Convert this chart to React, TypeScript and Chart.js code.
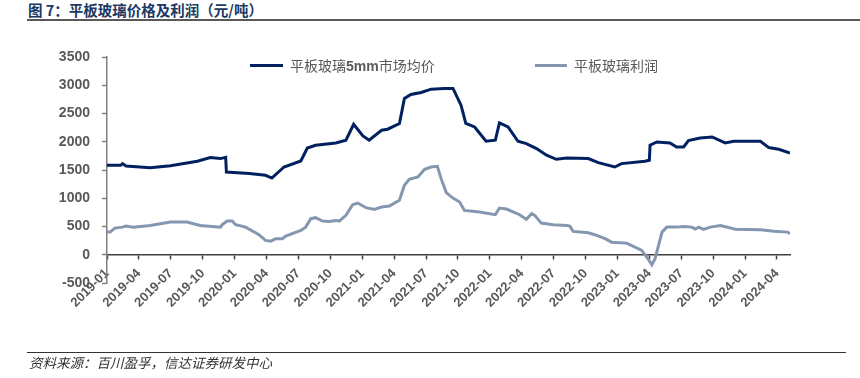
import React, { useEffect, useRef } from "react";
import { Chart, registerables } from "chart.js";

Chart.register(...registerables);

// 平板玻璃5mm市场均价 (元/吨)
const priceDates = [
  "2019-01-01", "2019-02-09", "2019-02-14", "2019-02-23", "2019-05-03", "2019-06-30",
  "2019-09-16", "2019-10-23", "2019-11-21", "2019-12-06", "2019-12-08", "2020-02-12",
  "2020-03-29", "2020-04-16", "2020-05-21", "2020-07-08", "2020-07-27", "2020-08-20",
  "2020-10-17", "2020-11-15", "2020-12-07", "2021-01-03", "2021-01-21", "2021-02-24",
  "2021-03-13", "2021-04-16", "2021-04-30", "2021-05-19", "2021-06-17", "2021-07-16",
  "2021-08-23", "2021-09-17", "2021-10-10", "2021-10-24", "2021-11-18", "2021-12-21",
  "2022-01-17", "2022-01-29", "2022-02-21", "2022-03-21", "2022-04-14", "2022-05-13",
  "2022-06-11", "2022-07-09", "2022-08-08", "2022-10-09", "2022-11-07", "2022-12-24",
  "2023-01-13", "2023-03-19", "2023-04-01", "2023-04-03", "2023-04-22", "2023-05-30",
  "2023-06-18", "2023-07-08", "2023-07-22", "2023-08-25", "2023-09-28", "2023-11-05",
  "2023-11-29", "2024-02-14", "2024-03-08", "2024-04-06", "2024-05-08",
];
const priceValues = [
  1583, 1583, 1613, 1571, 1542, 1575,
  1654, 1720, 1702, 1725, 1465, 1436,
  1406, 1358, 1553, 1660, 1890, 1938,
  1979, 2027, 2310, 2103, 2027, 2204,
  2222, 2323, 2766, 2837, 2872, 2931,
  2943, 2943, 2647, 2323, 2262, 2009,
  2027, 2333, 2262, 2009, 1968, 1879,
  1761, 1690, 1713, 1702, 1631, 1553,
  1613, 1654, 1672, 1938, 1997, 1979,
  1908, 1908, 2021, 2067, 2085, 1979,
  2009, 2009, 1897, 1867, 1801,
];

// 平板玻璃利润 (元/吨)
const profitDates = [
  "2019-01-01", "2019-01-10", "2019-01-24", "2019-02-14", "2019-02-23", "2019-03-16",
  "2019-05-03", "2019-06-30", "2019-08-17", "2019-09-24", "2019-11-21", "2019-11-26",
  "2019-12-10", "2019-12-25", "2020-01-04", "2020-02-02", "2020-03-10", "2020-03-29",
  "2020-04-13", "2020-04-27", "2020-05-16", "2020-05-26", "2020-07-08", "2020-07-22",
  "2020-08-06", "2020-08-20", "2020-09-09", "2020-09-28", "2020-10-17", "2020-10-27",
  "2020-11-15", "2020-12-04", "2020-12-19", "2021-01-12", "2021-02-05", "2021-02-24",
  "2021-03-18", "2021-04-16", "2021-04-30", "2021-05-14", "2021-06-08", "2021-06-27",
  "2021-07-16", "2021-08-03", "2021-08-14", "2021-08-29", "2021-09-17", "2021-10-06",
  "2021-10-20", "2021-12-02", "2022-01-17", "2022-01-29", "2022-02-17", "2022-03-26",
  "2022-04-14", "2022-04-29", "2022-05-08", "2022-05-27", "2022-06-30", "2022-08-08",
  "2022-08-17", "2022-08-27", "2022-10-09", "2022-10-28", "2022-11-26", "2022-12-15",
  "2023-01-28", "2023-03-10", "2023-03-28", "2023-04-08", "2023-04-17", "2023-05-07",
  "2023-05-21", "2023-06-18", "2023-07-08", "2023-08-01", "2023-08-11", "2023-08-21",
  "2023-09-04", "2023-09-23", "2023-10-22", "2023-12-04", "2024-02-14", "2024-03-23",
  "2024-05-01", "2024-05-08",
];
const profitValues = [
  401, 401, 472, 489, 507, 489,
  519, 578, 578, 519, 489, 532,
  596, 596, 532, 489, 355, 254,
  241, 284, 284, 330, 431, 489,
  638, 656, 596, 590, 608, 596,
  697, 886, 915, 833, 803, 844,
  862, 963, 1229, 1335, 1376, 1512,
  1553, 1566, 1347, 1100, 1003, 933,
  785, 755, 709, 826, 809, 709,
  626, 727, 697, 560, 532, 519,
  507, 413, 390, 355, 284, 223,
  206, 76, -71, -177, -71, 401,
  489, 489, 502, 489, 454, 489,
  450, 489, 519, 450, 443, 418,
  401, 372,
];

const seriesNames = ["平板玻璃5mm市场均价", "平板玻璃利润"];
const seriesColors = ["#002060", "#8497B0"];
const yMin = -500;
const yMax = 3500;
const yStep = 500;
const xTickStepMonths = 3;
const baseYear = 2019;

const titleText = "图 7：平板玻璃价格及利润（元/吨）";
const sourceText = "资料来源：百川盈孚，信达证券研发中心";

function monthIndex(d: string): number {
  const [y, m, day] = d.split("-").map(Number);
  const dim = new Date(y, m, 0).getDate();
  return (y - baseYear) * 12 + (m - 1) + (day - 1) / dim;
}

function monthLabel(v: number): string {
  const idx = Math.round(v);
  const y = baseYear + Math.floor(idx / 12);
  const m = (idx % 12) + 1;
  return `${y}-${m < 10 ? "0" + m : m}`;
}

const LAT = '"Liberation Sans", Arial, "Noto Sans CJK SC", sans-serif';

export default function App() {
  const canvasRef = useRef<HTMLCanvasElement | null>(null);

  useEffect(() => {
    const canvas = canvasRef.current;
    if (!canvas) return;
    const priceData = priceDates.map((d, i) => ({ x: monthIndex(d), y: priceValues[i] }));
    const profitData = profitDates.map((d, i) => ({ x: monthIndex(d), y: profitValues[i] }));
    const xMax = Math.max(monthIndex(priceDates[priceDates.length - 1]), monthIndex(profitDates[profitDates.length - 1]));

    const chart = new Chart(canvas, {
      type: "line",
      data: {
        datasets: [
          {
            label: seriesNames[0],
            data: priceData,
            borderColor: seriesColors[0],
            backgroundColor: seriesColors[0],
            borderWidth: 3,
            pointRadius: 0,
            tension: 0,
          },
          {
            label: seriesNames[1],
            data: profitData,
            borderColor: seriesColors[1],
            backgroundColor: seriesColors[1],
            borderWidth: 3,
            pointRadius: 0,
            tension: 0,
          },
        ],
      },
      options: {
        animation: false,
        responsive: false,
        devicePixelRatio: 1,
        layout: { padding: { top: 57, left: 0, right: 70, bottom: 95 } },
        plugins: {
          legend: { display: false },
          tooltip: { enabled: false },
          title: { display: false },
        },
        scales: {
          x: {
            type: "linear",
            min: 0,
            max: xMax,
            position: { y: 0 } as any,
            afterFit: (scale: any) => {
              scale.height = 0;
            },
            grid: {
              drawOnChartArea: false,
              drawTicks: true,
              tickLength: 4,
              tickWidth: 1.5,
              tickColor: "#404040",
            },
            border: { display: true, color: "#404040", width: 1.5 },
            ticks: {
              stepSize: xTickStepMonths,
              includeBounds: false,
              autoSkip: false,
              minRotation: 45,
              maxRotation: 45,
              padding: 7,
              color: "#595959",
              font: { family: LAT, size: 13, weight: "bold" },
              callback: (v: any) => monthLabel(Number(v)),
            },
          },
          y: {
            type: "linear",
            min: yMin,
            max: yMax,
            afterFit: (scale: any) => {
              scale.width = 107;
            },
            grid: {
              drawOnChartArea: false,
              drawTicks: true,
              tickLength: 5,
              tickWidth: 1.5,
              tickColor: "#7f7f7f",
            },
            border: { display: true, color: "#7f7f7f", width: 1.5 },
            ticks: {
              stepSize: yStep,
              padding: 12,
              color: "#595959",
              font: { family: LAT, size: 14, weight: "bold" },
              callback: (v: any) => String(v),
            },
          },
        },
      },
    });
    return () => chart.destroy();
  }, []);

  const legendItem = (i: number, lineLeft: number, textLeft: number) => (
    <>
      <div
        style={{
          position: "absolute",
          left: lineLeft,
          top: 64,
          width: textLeft - lineLeft - 7,
          height: 3,
          background: seriesColors[i],
        }}
      />
      <div
        style={{
          position: "absolute",
          left: textLeft,
          top: 56,
          fontFamily: '"Noto Sans CJK SC", sans-serif',
          fontSize: 14,
          lineHeight: "18px",
          color: "#595959",
          whiteSpace: "nowrap",
        }}
      >
        {i === 0 ? (
          <>
            平板玻璃<span style={{ fontFamily: LAT, fontWeight: "bold" }}>5mm</span>市场均价
          </>
        ) : (
          seriesNames[1]
        )}
      </div>
    </>
  );

  return (
    <div
      style={{
        position: "fixed",
        left: 0,
        top: 0,
        width: 860,
        height: 378,
        background: "#ffffff",
        overflow: "hidden",
      }}
    >
      <div
        style={{
          position: "absolute",
          left: 28,
          top: 1,
          fontFamily: '"Noto Sans CJK SC", sans-serif',
          fontWeight: "bold",
          fontSize: 14.5,
          lineHeight: "18px",
          color: "#203864",
          whiteSpace: "nowrap",
        }}
      >
        {titleText}
      </div>
      <div
        style={{
          position: "absolute",
          left: 27,
          top: 19,
          width: 833,
          height: 2,
          background: "#595959",
        }}
      />
      <canvas
        ref={canvasRef}
        width={860}
        height={378}
        style={{ position: "absolute", left: 0, top: 0, width: 860, height: 378 }}
      />
      {legendItem(0, 250, 290)}
      {legendItem(1, 535, 574)}
      <div
        style={{
          position: "absolute",
          left: 27,
          top: 352,
          width: 819,
          height: 1,
          background: "#333333",
        }}
      />
      <div
        style={{
          position: "absolute",
          left: 29,
          top: 354,
          fontFamily: '"Noto Sans CJK SC", sans-serif',
          fontStyle: "italic",
          fontSize: 13.5,
          lineHeight: "17px",
          color: "#333333",
          whiteSpace: "nowrap",
        }}
      >
        {sourceText}
      </div>
    </div>
  );
}
